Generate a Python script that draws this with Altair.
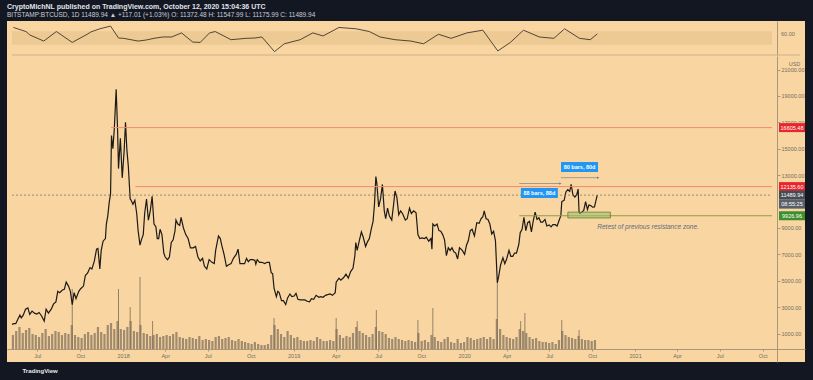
import altair as alt
import pandas as pd

FONT = "Liberation Sans"
BG_DARK = "#131722"
TAN = "#f9d6a1"

# ---------------- price (daily closes) ----------------
dates_2017 = ["2017-05-08","2017-05-12","2017-05-16","2017-05-20","2017-05-25","2017-05-28","2017-06-01","2017-06-06",
              "2017-06-11","2017-06-15","2017-06-20","2017-06-25","2017-06-30","2017-07-05","2017-07-10","2017-07-16",
              "2017-07-20","2017-07-25","2017-07-31","2017-08-05","2017-08-10","2017-08-14","2017-08-18","2017-08-24",
              "2017-08-28","2017-09-01","2017-09-06","2017-09-10","2017-09-14","2017-09-18","2017-09-22","2017-09-28",
              "2017-10-02","2017-10-08","2017-10-12","2017-10-17","2017-10-22","2017-10-26","2017-10-31","2017-11-05",
              "2017-11-08","2017-11-12","2017-11-15","2017-11-19","2017-11-24","2017-11-26","2017-11-29","2017-12-02",
              "2017-12-05","2017-12-07","2017-12-10","2017-12-13","2017-12-17","2017-12-20","2017-12-22","2017-12-26",
              "2017-12-30"]
close_2017 = [1700,1750,1750,2050,2400,2200,2400,2850,
              2950,2450,2700,2550,2480,2600,2350,1950,
              2850,2550,2850,3250,3400,4200,4100,4300,
              4350,4900,4600,4200,3200,4100,3650,4200,
              4400,4600,5400,5600,6000,5900,6450,7400,
              7450,5900,7300,8000,8200,9300,9900,10900,
              11600,16000,15000,16500,19500,16500,13500,15800,
              12800]

dates_2018 = ["2018-01-03","2018-01-06","2018-01-09","2018-01-12","2018-01-16","2018-01-18","2018-01-22","2018-01-26",
              "2018-01-30","2018-02-02","2018-02-06","2018-02-09","2018-02-13","2018-02-16","2018-02-20","2018-02-24",
              "2018-02-28","2018-03-04","2018-03-08","2018-03-12","2018-03-15","2018-03-18","2018-03-21","2018-03-25",
              "2018-03-29","2018-04-01","2018-04-06","2018-04-10","2018-04-14","2018-04-18","2018-04-22","2018-04-24",
              "2018-04-28","2018-05-02","2018-05-05","2018-05-10","2018-05-15","2018-05-20","2018-05-25","2018-05-31",
              "2018-06-05","2018-06-10","2018-06-15","2018-06-20","2018-06-24","2018-06-29","2018-07-04","2018-07-10",
              "2018-07-15","2018-07-18","2018-07-24","2018-07-28","2018-07-31","2018-08-05","2018-08-10","2018-08-14",
              "2018-08-20","2018-08-25","2018-08-31","2018-09-04","2018-09-08","2018-09-12","2018-09-18","2018-09-22",
              "2018-09-26","2018-09-30","2018-10-05","2018-10-10","2018-10-12","2018-10-15","2018-10-20","2018-10-25",
              "2018-10-31","2018-11-05","2018-11-10","2018-11-14","2018-11-17","2018-11-20","2018-11-25","2018-11-28",
              "2018-12-01","2018-12-06","2018-12-10","2018-12-15","2018-12-19","2018-12-24","2018-12-28"]
close_2018 = [14800,17000,14900,13700,11200,11100,10800,11100,
              10100,8800,7700,8100,8500,10100,11200,9600,
              10300,11400,9300,9100,8200,8200,8900,8500,
              7100,6800,6600,6800,7900,8100,8800,9600,
              9300,9200,9800,9000,8500,8200,7500,7500,
              7600,6800,6500,6700,6100,5900,6600,6400,
              6300,7300,8400,8200,7700,7000,6100,6200,
              6300,6700,7000,7400,6300,6300,6300,6700,
              6450,6600,6600,6550,6250,6600,6400,6400,
              6300,6400,6400,5600,5550,4450,3800,4200,
              4100,3500,3500,3200,3700,4000,3800]

dates_2019 = ["2019-01-02","2019-01-06","2019-01-10","2019-01-15","2019-01-20","2019-01-25","2019-01-30","2019-02-04",
              "2019-02-08","2019-02-13","2019-02-18","2019-02-24","2019-02-28","2019-03-05","2019-03-10","2019-03-15",
              "2019-03-20","2019-03-25","2019-03-31","2019-04-02","2019-04-08","2019-04-12","2019-04-18","2019-04-23",
              "2019-04-28","2019-05-03","2019-05-08","2019-05-12","2019-05-14","2019-05-17","2019-05-21","2019-05-26",
              "2019-05-30","2019-06-04","2019-06-08","2019-06-12","2019-06-16","2019-06-20","2019-06-23","2019-06-26",
              "2019-06-28","2019-07-02","2019-07-06","2019-07-10","2019-07-14","2019-07-17","2019-07-21","2019-07-25",
              "2019-07-30","2019-08-03","2019-08-06","2019-08-10","2019-08-14","2019-08-18","2019-08-22","2019-08-28",
              "2019-09-01","2019-09-06","2019-09-10","2019-09-15","2019-09-20","2019-09-24","2019-09-28","2019-10-03",
              "2019-10-08","2019-10-12","2019-10-17","2019-10-22","2019-10-24","2019-10-26","2019-10-30","2019-11-04",
              "2019-11-08","2019-11-12","2019-11-16","2019-11-20","2019-11-24","2019-11-28","2019-12-02","2019-12-06",
              "2019-12-10","2019-12-14","2019-12-18","2019-12-22","2019-12-28"]
close_2019 = [3850,4050,3600,3550,3550,3550,3450,3400,
              3650,3600,3900,3750,3800,3750,3900,3950,
              4000,3900,4100,4900,5200,5050,5250,5500,
              5200,5700,5950,6900,7900,7300,7950,8700,
              8300,7600,7950,8200,8900,9500,10800,12900,
              12400,10600,11200,12300,10300,9700,10500,9900,
              9600,10800,11800,11300,10000,10300,10100,9600,
              9700,10500,10100,10300,10150,8500,8200,8250,
              8200,8300,8000,8200,7400,9300,9150,9300,
              8800,8750,8500,8100,6900,7500,7300,7500,
              7200,7100,6650,7500,7300]

dates_2020 = ["2020-01-02","2020-01-06","2020-01-10","2020-01-14","2020-01-18","2020-01-23","2020-01-28","2020-02-02",
              "2020-02-06","2020-02-10","2020-02-13","2020-02-17","2020-02-21","2020-02-25","2020-02-29","2020-03-04",
              "2020-03-08","2020-03-12","2020-03-15","2020-03-19","2020-03-24","2020-03-28","2020-04-01","2020-04-06",
              "2020-04-10","2020-04-14","2020-04-18","2020-04-22","2020-04-27","2020-04-30","2020-05-04","2020-05-08",
              "2020-05-12","2020-05-16","2020-05-20","2020-05-24","2020-05-28","2020-06-01","2020-06-05","2020-06-09",
              "2020-06-13","2020-06-17","2020-06-22","2020-06-26","2020-07-01","2020-07-05","2020-07-09","2020-07-14",
              "2020-07-18","2020-07-22","2020-07-26","2020-07-28","2020-08-02","2020-08-06","2020-08-10","2020-08-14",
              "2020-08-17","2020-08-21","2020-08-25","2020-08-29","2020-09-01","2020-09-03","2020-09-05","2020-09-09",
              "2020-09-13","2020-09-17","2020-09-21","2020-09-24","2020-09-28","2020-10-02","2020-10-06","2020-10-09",
              "2020-10-12"]
close_2020 = [7000,7700,8050,8800,8900,8400,9400,9350,
              9700,9850,10300,9700,9650,9300,8550,8750,
              8050,4850,5350,6200,6750,6300,6650,7300,
              6850,6850,7100,7100,7750,8650,8900,9800,
              8800,9400,9500,8700,9550,10200,9650,9780,
              9450,9450,9650,9150,9230,9080,9250,9250,
              9150,9550,9930,11000,11100,11750,11900,11770,
              12300,11500,11350,11520,11950,10200,10100,10200,
              10330,11000,10400,10740,10700,10580,10600,11050,
              11490]

price_dates = dates_2017 + dates_2018 + dates_2019 + dates_2020
price_close = close_2017 + close_2018 + close_2019 + close_2020

# ---------------- volume (thousand BTC, weekly from 2017-05-10) ----------------
volume_start = "2017-05-10"
volume_weekly = [14, 18, 22, 16, 19, 21, 15, 14,
                 12, 16, 20, 13,
                 15, 18, 17, 14, 16,
                 15, 24, 14, 12,
                 11, 15, 17, 14,
                 16, 22, 17, 15, 24,
                 26, 20, 28, 20,
                 19, 22, 28, 18, 17,
                 24, 16, 15, 13,
                 14, 15, 12, 13,
                 14, 13, 15, 17,
                 12, 11, 10, 12, 11,
                 10, 13, 9, 10,
                 9, 8, 12, 13,
                 10, 11, 12, 9, 8,
                 10, 8, 7, 6,
                 5, 7, 5, 4, 4,
                 5, 14, 24, 20,
                 15, 12, 18, 14,
                 11, 12, 9, 8, 8,
                 9, 8, 12, 10,
                 8, 8, 9, 8,
                 20, 14, 11, 13,
                 12, 16, 22, 18, 16,
                 14, 12, 15, 22,
                 18, 17, 15, 11, 10,
                 12, 10, 9, 8,
                 9, 8, 7, 16,
                 8, 9, 7, 14, 12,
                 8, 7, 10, 12,
                 7, 6, 10, 6,
                 7, 12, 11, 9, 10,
                 11, 12, 10, 12,
                 10, 30, 20, 14,
                 12, 11, 10, 12, 20,
                 18, 16, 12, 10,
                 11, 8, 7, 7,
                 6, 7, 5, 9, 18,
                 14, 12, 11, 10,
                 13, 10, 9, 9, 8,
                 9]
spike_dates = ["2017-09-14", "2017-12-22", "2018-01-16", "2018-02-06", "2018-03-05", "2018-11-20",
               "2019-04-02", "2019-05-17", "2019-06-27", "2019-09-24", "2019-10-26", "2020-03-12",
               "2020-05-01", "2020-05-10", "2020-07-28", "2020-09-03"]
spike_volume = [60, 60, 42, 72, 28, 31, 31, 28, 39, 29, 41, 66, 28, 36, 29, 19]

# ---------------- RSI ----------------
rsi_dates = ["2017-05-11","2017-06-07","2017-06-15","2017-07-15","2017-08-11","2017-09-14","2017-10-16","2017-10-24",
             "2017-11-12","2017-12-05","2017-12-22","2018-01-02","2018-02-02","2018-02-19","2018-03-08","2018-03-27",
             "2018-04-15","2018-05-06","2018-05-30","2018-06-15","2018-07-05","2018-07-17","2018-08-20","2018-09-21",
             "2018-10-10","2018-10-25","2018-11-21","2018-12-12","2019-01-15","2019-02-11","2019-03-05","2019-04-08",
             "2019-05-15","2019-06-12","2019-07-05","2019-08-06","2019-09-09","2019-10-06","2019-11-07","2019-12-04",
             "2020-01-07","2020-02-10","2020-03-13","2020-04-09","2020-05-07","2020-06-10","2020-07-11","2020-08-03",
             "2020-09-04","2020-09-27","2020-10-12"]
rsi_values = [81, 69, 59, 41, 69, 37, 61, 68,
              77, 85, 50, 49, 41, 44, 49, 53,
              53, 65, 38, 37, 65, 69, 45, 49,
              50, 53, 10, 33, 45, 65, 56, 81,
              77, 69, 53, 45, 41, 33, 61, 49,
              65, 73, 12, 37, 73, 53, 49, 77,
              49, 45, 62]
rsi_band = [30, 70]
rsi_last_label = "60.00"

# ---------------- drawn levels and annotations ----------------
chart_start = "2017-05-08"
chart_end = "2021-12-20"
axis_end = "2021-10-21"
red_level_prices = [16605.48, 12135.60]
red_level_starts = ["2017-12-06", "2018-01-27"]
last_price = 11489.94
support_price = 9926.96
support_start = "2020-04-28"
zone_dates = ["2020-08-10", "2020-11-09"]
zone_prices = [9760, 10200]
measure_starts = ["2020-04-28", "2020-07-26"]
measure_ends = ["2020-07-25", "2020-10-14"]
measure_prices = [12370, 12810]
measure_labels = ["88 bars, 88d", "80 bars, 80d"]
measure_label_dates = ["2020-06-10", "2020-09-04"]
measure_label_prices = [11650, 13620]
note_text = "Retest of previous resistance zone."
note_date = "2020-10-12"
note_price = 9076
tag_prices = [16605.48, 12135.60, 11489.94, 9926.96]
tag_texts = ["16605.48", "12135.60", "11489.94", "9926.96"]
tag_colors = ["#e8262c", "#e8262c", "#474b56", "#3e8e2d"]
countdown_text = "08:55:25"
price_ticks = [1000, 3000, 5000, 7000, 9000, 13000, 15000, 17000, 19000, 21000]

# ---------------- tables ----------------
price_df = pd.DataFrame({"date": price_dates, "close": price_close})
vol_df = pd.DataFrame({
    "date": pd.date_range(volume_start, periods=len(volume_weekly), freq="7D").strftime("%Y-%m-%d"),
    "vol": volume_weekly})
spike_df = pd.DataFrame({"date": spike_dates, "vol": spike_volume})
rsi_df = pd.DataFrame({"date": rsi_dates, "rsi": rsi_values})
band_df = pd.DataFrame({"date": [chart_start], "end": [axis_end], "rsi": [rsi_band[0]], "hi": [rsi_band[1]]})
sep_df = pd.DataFrame({"date": [chart_start], "end": [chart_end], "rsi": [0]})
rsi_tag_df = pd.DataFrame({"rsi": [rsi_values[-1]], "label": [rsi_last_label]})
red_df = pd.DataFrame({"date": red_level_starts, "end": [axis_end] * 2, "price": red_level_prices})
last_df = pd.DataFrame({"date": [chart_start], "end": [axis_end], "price": [last_price]})
sup_df = pd.DataFrame({"date": [support_start], "end": [axis_end], "price": [support_price]})
zone_df = pd.DataFrame({"date": [zone_dates[0]], "end": [zone_dates[1]], "price": [zone_prices[0]], "hi": [zone_prices[1]]})
meas_df = pd.DataFrame({"date": measure_starts, "end": measure_ends, "price": measure_prices})
box_df = pd.DataFrame({"date": measure_label_dates, "price": measure_label_prices, "label": measure_labels})
note_df = pd.DataFrame({"date": [note_date], "price": [note_price], "label": [note_text]})
tag_df = pd.DataFrame({"price": tag_prices, "label": tag_texts, "bg": tag_colors})
cd_df = pd.DataFrame({"price": [last_price], "label": [countdown_text]})

# ---------------- scales / axes ----------------
X_SCALE = alt.Scale(type="utc", domain=[alt.DateTime(year=2017, month=5, date=8, utc=True),
                                         alt.DateTime(year=2021, month=12, date=20, utc=True)])
PRICE_SCALE = alt.Scale(domain=[-1152, 22030], range=[341, 35], nice=False, zero=False)
RSI_SCALE = alt.Scale(domain=[0, 100], range=[34, 0], nice=False, zero=False)
VOL_SCALE = alt.Scale(domain=[-13, 293], range=[341, 35], nice=False, zero=False)

tick_vals = [alt.DateTime(year=y, month=m, date=1, utc=True)
             for y in [2017, 2018, 2019, 2020, 2021] for m in [1, 4, 7, 10]
             if not (y == 2017 and m < 7)]

AXIS_GRAY = "#a8977c"
LABEL_GRAY = "#736c61"

x_axis = alt.Axis(values=tick_vals,
                  labelExpr="utcmonth(datum.value) == 0 ? utcFormat(datum.value, '%Y') : utcFormat(datum.value, '%b')",
                  offset=-13, domainColor=AXIS_GRAY, tickColor=AXIS_GRAY, tickSize=2, labelFontSize=5.5,
                  labelColor=LABEL_GRAY, labelFont=FONT, labelPadding=2, grid=False, labelOverlap=False,
                  labelFlush=False, title="TradingView", titleColor="#e8eaed", titleFontSize=6, titleFont=FONT,
                  titleFontWeight="bold", titleAlign="left", titleX=15, titleY=21, titleBaseline="middle",
                  orient="bottom")
price_axis = alt.Axis(orient="right", offset=-28, values=price_ticks, format=".2f", labelFontSize=5.5,
                      labelColor=LABEL_GRAY, labelFont=FONT, tickSize=3, tickColor=AXIS_GRAY,
                      domainColor=AXIS_GRAY, labelPadding=1, grid=False, labelOverlap=False, labelFlush=False,
                      title="USD", titleAngle=0, titleX=17, titleY=42, titleFontSize=5.5,
                      titleFontWeight="normal", titleColor=LABEL_GRAY, titleFont=FONT, titleAlign="center",
                      titleBaseline="middle")
rsi_axis = alt.Axis(orient="right", offset=-28, labels=False, ticks=False, domainColor=AXIS_GRAY,
                    grid=False, title="RSI", titleOpacity=0)


def xf(field):
    return alt.X(f"{field}:T", scale=X_SCALE, axis=x_axis, title="TradingView")


def yp(field):
    return alt.Y(f"{field}:Q", scale=PRICE_SCALE, axis=price_axis, title="USD")


def yr(field):
    return alt.Y(f"{field}:Q", scale=RSI_SCALE, axis=rsi_axis, title="RSI")


# ---------------- volume ----------------
vol_bars = alt.Chart(vol_df).mark_bar(size=2.2, color="#7a6b5a", opacity=0.7).encode(
    x=xf("date"), y=alt.Y("vol:Q", scale=VOL_SCALE, axis=None), y2=alt.datum(0))
vol_spikes = alt.Chart(spike_df).mark_rule(color="#7a6b5a", strokeWidth=1, opacity=0.8).encode(
    x=xf("date"), y=alt.Y("vol:Q", scale=VOL_SCALE, axis=None), y2=alt.datum(0))
vol_layer = alt.layer(vol_bars, vol_spikes)

# ---------------- price pane ----------------
price_line = alt.Chart(price_df).mark_line(color="#1c1a18", strokeWidth=1.2).encode(
    x=xf("date"), y=yp("close"))
last_line = alt.Chart(last_df).mark_rule(color="#6d6a66", strokeWidth=0.7, strokeDash=[2, 2]).encode(
    x=xf("date"), x2="end:T", y=yp("price"))
red_lines = alt.Chart(red_df).mark_rule(color="#f28a72", strokeWidth=1).encode(
    x=xf("date"), x2="end:T", y=yp("price"))
sup_line = alt.Chart(sup_df).mark_rule(color="#8f9b45", strokeWidth=1).encode(
    x=xf("date"), x2="end:T", y=yp("price"))
zone = alt.Chart(zone_df).mark_rect(fill="#9fbd6e", fillOpacity=0.55, stroke="#5f7f2a", strokeWidth=0.8).encode(
    x=xf("date"), x2="end:T", y=yp("price"), y2="hi:Q")
meas = alt.Chart(meas_df).mark_rule(color="#7c7f88", strokeWidth=0.7).encode(
    x=xf("date"), x2="end:T", y=yp("price"))
meas_arrow = alt.Chart(meas_df).mark_point(shape="triangle-right", filled=True, size=7, color="#7c7f88",
                                           opacity=1).encode(x=xf("end"), y=yp("price"))
boxes = alt.Chart(box_df).mark_tick(orient="horizontal", size=37, thickness=10, color="#2196f3",
                                    opacity=1).encode(x=xf("date"), y=yp("price"))
box_text = alt.Chart(box_df).mark_text(fontSize=5.5, font=FONT, fontWeight="bold", color="white").encode(
    x=xf("date"), y=yp("price"), text="label:N")
note = alt.Chart(note_df).mark_text(fontSize=6.5, font=FONT, fontStyle="italic", color="#5e6c7a",
                                    align="left", baseline="middle").encode(
    x=xf("date"), y=yp("price"), text="label:N")
tags = alt.Chart(tag_df).mark_tick(orient="horizontal", size=26, thickness=9, opacity=1).encode(
    x=alt.value(785), y=yp("price"), color=alt.Color("bg:N", scale=None))
tag_text = alt.Chart(tag_df).mark_text(fontSize=5.5, font=FONT, color="white").encode(
    x=alt.value(785), y=yp("price"), text="label:N")
cd_tag = alt.Chart(cd_df).mark_tick(orient="horizontal", size=26, thickness=9, opacity=1, color="#5b5f6b",
                                    yOffset=9).encode(x=alt.value(785), y=yp("price"))
cd_text = alt.Chart(cd_df).mark_text(fontSize=5.5, font=FONT, color="white", dy=9).encode(
    x=alt.value(785), y=yp("price"), text="label:N")
price_layer = alt.layer(price_line, last_line, red_lines, sup_line, zone, meas, meas_arrow, boxes, box_text,
                        note, tags, tag_text, cd_tag, cd_text)

# ---------------- RSI pane ----------------
band = alt.Chart(band_df).mark_rect(color="#edc993", opacity=1).encode(
    x=xf("date"), x2="end:T", y=yr("rsi"), y2="hi:Q")
rsi_line = alt.Chart(rsi_df).mark_line(color="#3f352b", strokeWidth=0.9).encode(
    x=xf("date"), y=yr("rsi"))
sep = alt.Chart(sep_df).mark_rule(color="#cdb08a", strokeWidth=1).encode(
    x=xf("date"), x2="end:T", y=yr("rsi"))
rsi_tag = alt.Chart(rsi_tag_df).mark_text(fontSize=5.5, font=FONT, color=LABEL_GRAY, align="left").encode(
    x=alt.value(774), y=yr("rsi"), text="label:N")
rsi_layer = alt.layer(band, rsi_line, sep, rsi_tag)

chart = alt.layer(vol_layer, price_layer, rsi_layer).resolve_scale(y="independent").properties(
    width=798, height=341,
    padding={"left": 7, "top": 21, "right": 8, "bottom": 18},
    autosize=alt.AutoSizeParams(type="none"),
    background=BG_DARK,
    title=alt.TitleParams(
        text="CryptoMichNL published on TradingView.com, October 12, 2020 15:04:36 UTC",
        subtitle="BITSTAMP:BTCUSD, 1D  11489.94 \u25b2 +117.01 (+1.03%)  O: 11372.48  H: 11547.99  L: 11175.99  C: 11489.94",
        anchor="start", frame="group", fontSize=7, font=FONT, fontWeight="bold", color="#e0e3eb",
        subtitleFontSize=6.5, subtitleFont=FONT, subtitleColor="#c9ccd6", subtitlePadding=2, offset=3),
).configure_view(fill=TAN, strokeWidth=0)

chart.save("out.html", embed_options={"renderer": "svg", "actions": False})
